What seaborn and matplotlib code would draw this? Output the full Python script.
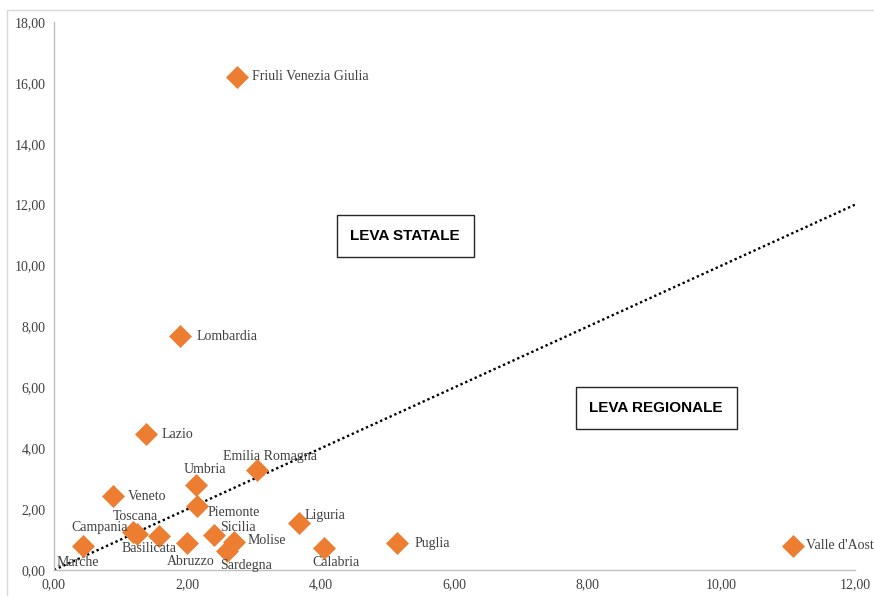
import numpy as np
import pandas as pd
import matplotlib
matplotlib.use("Agg")
import matplotlib.pyplot as plt
import seaborn as sns
from matplotlib.patches import Rectangle
from matplotlib.ticker import FuncFormatter

regions = [
    "Friuli Venezia Giulia", "Lombardia", "Lazio", "Emilia Romagna", "Umbria",
    "Veneto", "Piemonte", "Liguria", "Toscana", "Campania", "Basilicata",
    "Abruzzo", "Sicilia", "Molise", "Sardegna", "Marche", "Calabria",
    "Puglia", "Valle d'Aosta",
]
leva_regionale = [2.74, 1.89, 1.38, 3.04, 2.13, 0.88, 2.14, 3.67, 1.25, 1.18,
                  1.58, 1.99, 2.40, 2.70, 2.59, 0.44, 4.05, 5.14, 11.07]
leva_statale = [16.20, 7.69, 4.47, 3.29, 2.79, 2.43, 2.10, 1.54, 1.18, 1.26,
                1.12, 0.88, 1.15, 0.93, 0.62, 0.79, 0.71, 0.89, 0.79]

# label offsets in pixels (dx, dy, horizontal alignment)
label_pos = {
    "Friuli Venezia Giulia": (15, 0, "left"),
    "Lombardia": (16, -1, "left"),
    "Lazio": (15, -1, "left"),
    "Emilia Romagna": (13, 13, "center"),
    "Umbria": (9, 16, "center"),
    "Veneto": (15, 0, "left"),
    "Piemonte": (11, -6, "left"),
    "Liguria": (6, 8, "left"),
    "Toscana": (-2, 18, "center"),
    "Campania": (-5, 4, "right"),
    "Basilicata": (-10, -13, "center"),
    "Abruzzo": (4, -18, "center"),
    "Sicilia": (6, 7, "left"),
    "Molise": (13, 1, "left"),
    "Sardegna": (19, -14, "center"),
    "Marche": (-6, -17, "center"),
    "Calabria": (12, -14, "center"),
    "Puglia": (17, -1, "left"),
    "Valle d'Aosta": (13, 0, "left"),
}

df = pd.DataFrame({"regione": regions, "x": leva_regionale, "y": leva_statale})

sns.set_style("white")
plt.rcParams["font.family"] = ["Liberation Serif", "DejaVu Serif"]

fig = plt.figure(figsize=(8.74, 5.96), dpi=100)
ax = fig.add_axes([54 / 874, 26 / 596, 801 / 874, 548 / 596])

# outer light border
fig.patches.append(Rectangle((7 / 874, -0.05), 1.1, 1.05 - 10 / 596,
                             transform=fig.transFigure, fill=False,
                             edgecolor="#d9d9d9", linewidth=1))

ax.axline((0, 0), slope=1, color="black", linestyle=(0, (1, 1.2)), linewidth=1.7, zorder=1)

sns.scatterplot(data=df, x="x", y="y", marker="D", s=125, color="#ed7d31",
                edgecolor="#ed7d31", linewidth=0.5, ax=ax, zorder=3, clip_on=False)

for name, xv, yv in zip(regions, leva_regionale, leva_statale):
    dx, dy, ha = label_pos[name]
    ax.annotate(name, (xv, yv), xytext=(dx, dy), textcoords="offset pixels",
                ha=ha, va="center", fontsize=10, color="#404040",
                annotation_clip=False, zorder=4)

box = dict(boxstyle="square,pad=0.9", facecolor="white", edgecolor="#262626", linewidth=1)
ax.text(5.26, 10.97, "LEVA STATALE", ha="center", va="center", fontsize=11,
        fontweight="bold", family="Liberation Sans", color="black", bbox=box)
ax.text(9.02, 5.32, "LEVA REGIONALE", ha="center", va="center", fontsize=11,
        fontweight="bold", family="Liberation Sans", color="black", bbox=box)

ax.set_xlim(0, 12)
ax.set_ylim(0, 18)
ax.set_xticks(np.arange(0, 13, 2))
ax.set_yticks(np.arange(0, 19, 2))
fmt = FuncFormatter(lambda v, p: f"{v:.2f}".replace(".", ","))
ax.xaxis.set_major_formatter(fmt)
ax.yaxis.set_major_formatter(fmt)
ax.tick_params(axis="both", length=0, labelsize=10, labelcolor="#404040")
ax.tick_params(axis="x", pad=6)
ax.tick_params(axis="y", pad=6)
ax.set_xlabel("")
ax.set_ylabel("")

for side in ["top", "right"]:
    ax.spines[side].set_visible(False)
for side in ["left", "bottom"]:
    ax.spines[side].set_color("#bfbfbf")
    ax.spines[side].set_linewidth(1)
ax.grid(False)

fig.savefig("out.png", dpi=100)
